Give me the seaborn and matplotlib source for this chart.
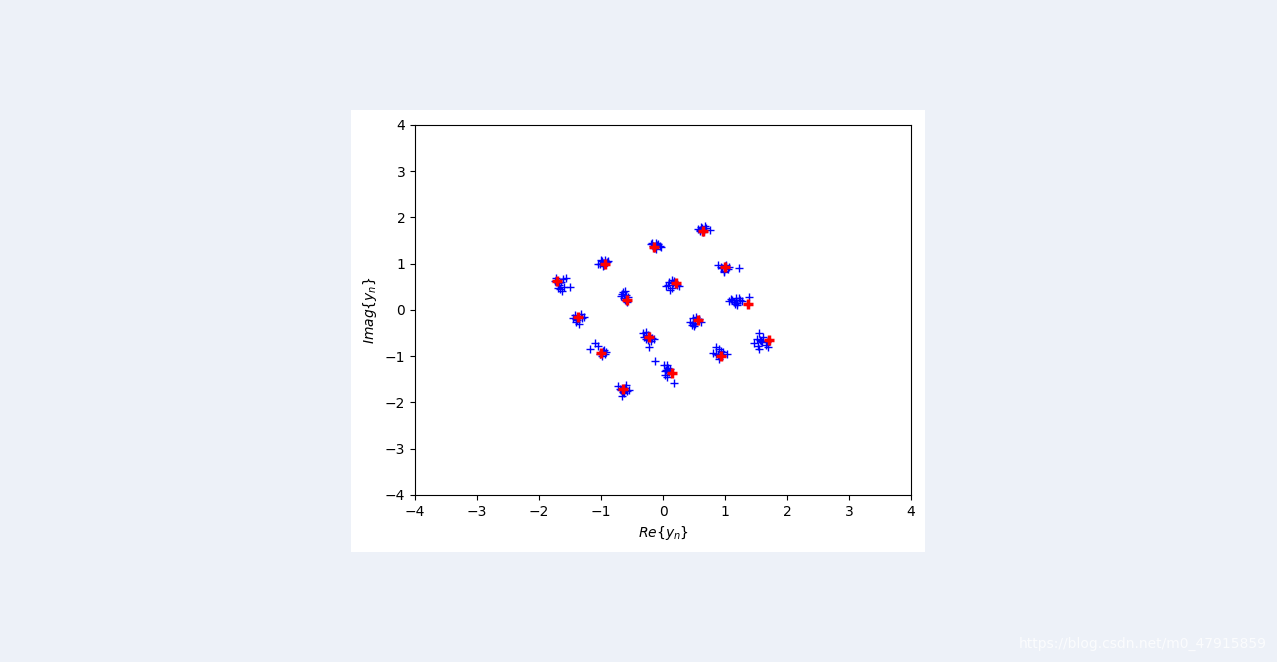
import matplotlib.pyplot as plt
import seaborn as sns
import pandas as pd
from matplotlib.patches import Rectangle

# received symbols (blue)
rx_re = [
    -1.72, -1.65, -1.68, -1.62, -1.75, -1.60, -1.70, -1.57, -1.63, -1.50, -1.66, -1.69,
    -1.02, -0.98, -0.95, -0.90, -1.05, -0.93, -0.97, -1.00, -0.88, -0.96,
    -0.20, -0.15, -0.10, -0.05, -0.18, -0.12, -0.08, -0.16, -0.03, -0.11,
    0.57, 0.62, 0.66, 0.70, 0.60, 0.64, 0.68, 0.75, 0.63, 0.59,
    0.88, 0.95, 1.00, 1.05, 0.98, 1.02, 1.06, 0.93, 1.22, 0.99,
    1.06, 1.10, 1.15, 1.18, 1.20, 1.24, 1.27, 1.12, 1.16, 1.22, 1.38, 1.19,
    1.46, 1.52, 1.55, 1.58, 1.62, 1.66, 1.70, 1.55, 1.60, 1.53, 1.68, 1.57,
    0.80, 0.86, 0.90, 0.93, 0.88, 0.97, 1.03, 0.90, 0.85, 0.95,
    0.43, 0.48, 0.52, 0.55, 0.50, 0.58, 0.62, 0.46, 0.53, 0.49,
    0.05, 0.10, 0.14, 0.18, 0.22, 0.12, 0.16, 0.08, 0.25, 0.15,
    -0.68, -0.64, -0.60, -0.62, -0.57, -0.66, -0.58, -0.63, -0.61,
    -1.45, -1.42, -1.38, -1.35, -1.30, -1.40, -1.33, -1.27, -1.36, -1.41,
    -1.10, -1.05, -1.17, -1.00, -0.97, -0.94, -0.98, -0.92, -1.02, -0.95,
    -0.72, -0.68, -0.65, -0.62, -0.58, -0.66, -0.60, -0.70, -0.63, -0.55,
    -0.13, 0.02, 0.05, 0.08, 0.10, 0.04, 0.07, 0.12, 0.06, 0.17, 0.03,
    -0.33, -0.30, -0.27, -0.24, -0.20, -0.28, -0.22, -0.17, -0.25, -0.14,
]
rx_im = [
    0.70, 0.60, 0.55, 0.68, 0.62, 0.50, 0.48, 0.70, 0.40, 0.50, 0.45, 0.58,
    1.00, 1.05, 0.97, 1.03, 1.00, 1.08, 0.95, 1.07, 1.05, 1.02,
    1.42, 1.35, 1.40, 1.38, 1.45, 1.32, 1.43, 1.39, 1.36, 1.44,
    1.75, 1.80, 1.72, 1.77, 1.70, 1.68, 1.82, 1.74, 1.78, 1.73,
    0.98, 0.90, 0.95, 0.88, 0.85, 0.97, 0.92, 0.93, 0.90, 0.82,
    0.20, 0.24, 0.18, 0.26, 0.15, 0.22, 0.19, 0.21, 0.12, 0.25, 0.27, 0.10,
    -0.72, -0.62, -0.50, -0.68, -0.58, -0.75, -0.80, -0.85, -0.70, -0.78, -0.70, -0.65,
    -0.93, -0.80, -1.05, -0.88, -0.98, -0.90, -0.95, -0.85, -0.95, -1.00,
    -0.25, -0.18, -0.30, -0.22, -0.35, -0.20, -0.25, -0.33, -0.15, -0.28,
    0.52, 0.60, 0.48, 0.62, 0.55, 0.43, 0.58, 0.55, 0.52, 0.65,
    0.30, 0.38, 0.33, 0.22, 0.28, 0.35, 0.18, 0.25, 0.40,
    -0.18, -0.10, -0.22, -0.15, -0.18, -0.25, -0.08, -0.15, -0.30, -0.20,
    -0.72, -0.78, -0.84, -0.92, -0.88, -0.95, -1.00, -0.90, -0.96, -0.86,
    -1.65, -1.72, -1.78, -1.68, -1.75, -1.85, -1.62, -1.70, -1.80, -1.72,
    -1.10, -1.20, -1.30, -1.25, -1.35, -1.40, -1.18, -1.28, -1.45, -1.58, -1.33,
    -0.50, -0.58, -0.62, -0.55, -0.68, -0.48, -0.80, -0.60, -0.65, -0.63,
]

# reference constellation (red)
ref_re = [-1.71, -0.94, -0.14, 0.65, 1.00, 1.37, 1.71, 0.94,
          0.57, 0.21, -0.58, -1.37, -1.00, -0.64, 0.15, -0.23]
ref_im = [0.63, 1.00, 1.36, 1.71, 0.92, 0.14, -0.65, -0.99,
          -0.22, 0.58, 0.22, -0.16, -0.94, -1.71, -1.37, -0.58]

rx = pd.DataFrame({'re': rx_re, 'im': rx_im})
ref = pd.DataFrame({'re': ref_re, 'im': ref_im})

fig = plt.figure(figsize=(12.77, 6.62), dpi=100)
fig.patch.set_facecolor('#edf1f8')
fig.patches.append(Rectangle((0.2749, 0.1662), 0.4495, 0.6677,
                             transform=fig.transFigure, facecolor='white',
                             edgecolor='none', zorder=-1))
ax = fig.add_axes([0.325, 0.2523, 0.3884, 0.5589])
ax.set_zorder(2)

sns.scatterplot(data=rx, x='re', y='im', marker='+', color='blue',
                s=40, linewidth=1, ax=ax)
sns.scatterplot(data=ref, x='re', y='im', marker='+', color='red',
                s=45, linewidth=2.5, ax=ax, zorder=3)

ax.set_xlim(-4, 4)
ax.set_ylim(-4, 4)
ax.set_xticks(range(-4, 5))
ax.set_yticks(range(-4, 5))
ax.set_xlabel(r'$Re\{y_n\}$')
ax.set_ylabel(r'$Imag\{y_n\}$')

fig.text(0.992, 0.027, 'https://blog.csdn.net/m0_47915859', ha='right',
         va='center', color='white', fontsize=10, alpha=0.8)

plt.savefig('out.png', dpi=100)
